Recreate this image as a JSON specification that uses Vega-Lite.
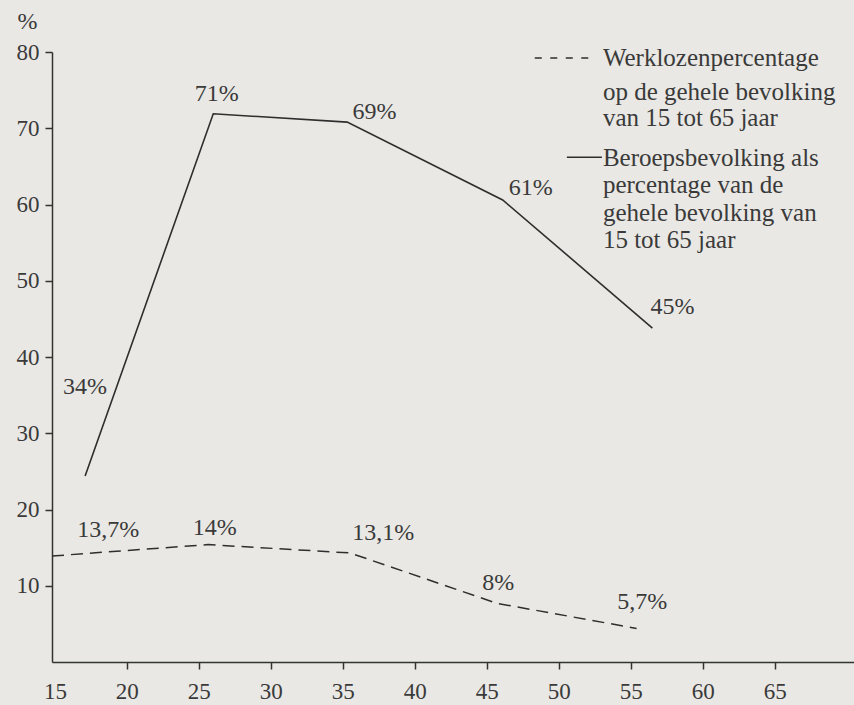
{
  "$schema": "https://vega.github.io/schema/vega-lite/v6.json",
  "width": 802,
  "height": 610,
  "autosize": {"type": "none"},
  "padding": {"left": 52, "top": 52, "right": 0, "bottom": 43},
  "background": "#e9e8e4",
  "config": {
    "view": {"stroke": null},
    "font": "'Liberation Serif', 'DejaVu Serif', serif",
    "text": {"font": "'Liberation Serif', 'DejaVu Serif', serif"},
    "axis": {
      "grid": false,
      "domainColor": "#333333",
      "domainWidth": 1.5,
      "tickColor": "#333333",
      "tickWidth": 1.5,
      "tickSize": 7,
      "labelColor": "#3a3a3a",
      "labelFont": "'Liberation Serif', 'DejaVu Serif', serif",
      "labelFontSize": 23,
      "titleFont": "'Liberation Serif', 'DejaVu Serif', serif",
      "titleColor": "#3a3a3a",
      "titleFontWeight": "normal"
    }
  },
  "datasets": {
    "lines": [
      {"serie": "Beroepsbevolking", "x": 17.1, "y": 24.4},
      {"serie": "Beroepsbevolking", "x": 26.0, "y": 71.9},
      {"serie": "Beroepsbevolking", "x": 35.3, "y": 70.8},
      {"serie": "Beroepsbevolking", "x": 46.1, "y": 60.6},
      {"serie": "Beroepsbevolking", "x": 56.5, "y": 43.8},
      {"serie": "Werklozen", "x": 14.8, "y": 13.9},
      {"serie": "Werklozen", "x": 25.65, "y": 15.4},
      {"serie": "Werklozen", "x": 35.5, "y": 14.3},
      {"serie": "Werklozen", "x": 45.7, "y": 7.7},
      {"serie": "Werklozen", "x": 55.4, "y": 4.4}
    ],
    "labels": [
      {"x": 17.1, "y": 36.1, "t": "34%"},
      {"x": 26.25, "y": 74.5, "t": "71%"},
      {"x": 37.2, "y": 72.1, "t": "69%"},
      {"x": 48.05, "y": 62.2, "t": "61%"},
      {"x": 57.9, "y": 46.6, "t": "45%"},
      {"x": 18.7, "y": 17.3, "t": "13,7%"},
      {"x": 26.1, "y": 17.6, "t": "14%"},
      {"x": 37.8, "y": 16.9, "t": "13,1%"},
      {"x": 45.8, "y": 10.4, "t": "8%"},
      {"x": 55.8, "y": 7.9, "t": "5,7%"}
    ],
    "legendText": [
      {"x": 53.06, "y": 79.2, "t": "Werklozenpercentage"},
      {"x": 53.06, "y": 74.8, "t": "op de gehele bevolking"},
      {"x": 53.06, "y": 71.3, "t": "van 15 tot 65 jaar"},
      {"x": 53.06, "y": 66.1, "t": "Beroepsbevolking als"},
      {"x": 53.06, "y": 62.6, "t": "percentage van de"},
      {"x": 53.06, "y": 58.9, "t": "gehele bevolking van"},
      {"x": 53.06, "y": 55.3, "t": "15 tot 65 jaar"}
    ],
    "legendLines": [
      {"serie": "Werklozen", "x": 48.33, "x2": 52.5, "y": 79.2},
      {"serie": "Beroepsbevolking", "x": 50.56, "x2": 52.99, "y": 66.2}
    ]
  },
  "encoding": {
    "x": {
      "field": "x",
      "type": "quantitative",
      "scale": {"domain": [14.8, 70.5], "nice": false, "zero": false},
      "axis": {
        "title": null,
        "values": [15, 20, 25, 30, 35, 40, 45, 50, 55, 60, 65],
        "labelPadding": 11,
        "tickOpacity": {"condition": {"test": "datum.value == 15", "value": 0}, "value": 1}
      }
    },
    "y": {
      "field": "y",
      "type": "quantitative",
      "scale": {"domain": [0, 80], "nice": false},
      "axis": {
        "title": "%",
        "titleAngle": 0,
        "titleAlign": "left",
        "titleBaseline": "middle",
        "titleX": -35,
        "titleY": -31,
        "titleFontSize": 24,
        "values": [10, 20, 30, 40, 50, 60, 70, 80],
        "labelPadding": 6
      }
    }
  },
  "layer": [
    {
      "data": {"name": "lines"},
      "transform": [{"filter": "datum.serie == 'Beroepsbevolking'"}],
      "mark": {"type": "line", "color": "#2e2e2e", "strokeWidth": 1.6}
    },
    {
      "data": {"name": "lines"},
      "transform": [{"filter": "datum.serie == 'Werklozen'"}],
      "mark": {"type": "line", "color": "#2e2e2e", "strokeWidth": 1.5, "strokeDash": [12, 7]}
    },
    {
      "data": {"name": "labels"},
      "mark": {"type": "text", "font": "'Liberation Serif', 'DejaVu Serif', serif", "fontSize": 24, "color": "#3a3a3a", "align": "center", "baseline": "middle"},
      "encoding": {"text": {"field": "t"}}
    },
    {
      "data": {"name": "legendText"},
      "mark": {"type": "text", "font": "'Liberation Serif', 'DejaVu Serif', serif", "fontSize": 25, "color": "#3a3a3a", "align": "left", "baseline": "middle"},
      "encoding": {"text": {"field": "t"}}
    },
    {
      "data": {"name": "legendLines"},
      "transform": [{"filter": "datum.serie == 'Werklozen'"}],
      "mark": {"type": "rule", "color": "#2e2e2e", "strokeWidth": 1.5, "strokeDash": [7, 8.5]},
      "encoding": {"x2": {"field": "x2"}}
    },
    {
      "data": {"name": "legendLines"},
      "transform": [{"filter": "datum.serie == 'Beroepsbevolking'"}],
      "mark": {"type": "rule", "color": "#2e2e2e", "strokeWidth": 1.5},
      "encoding": {"x2": {"field": "x2"}}
    }
  ]
}
